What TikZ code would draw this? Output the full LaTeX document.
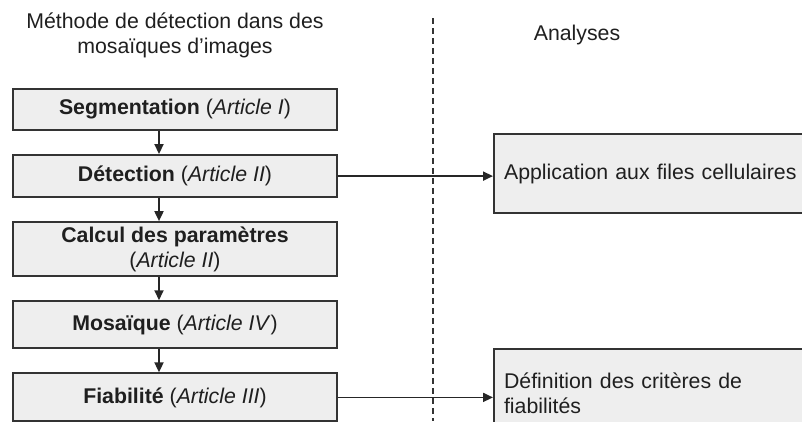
\documentclass[tikz,border=0pt]{standalone}
\usepackage{fontspec}
\setmainfont{Liberation Sans}
\usetikzlibrary{positioning,arrows.meta}
\begin{document}
\begin{tikzpicture}[x=1pt, y=-1pt, every node/.style={font=\fontsize{21.3}{25}\selectfont, text=black!88},
  node distance=23pt,
  box/.style={draw=black!80, line width=2.1pt, fill=gray!13, align=center, minimum width=324pt, inner sep=2pt},
  abox/.style={draw=black!80, line width=2.1pt, fill=gray!13, align=left, text width=330pt, inner sep=10pt, anchor=west},
  link/.style={line width=1.8pt, draw=black!85, -{Triangle[length=10pt, width=9pt]}}]
\useasboundingbox (0,0) rectangle (802,421);
\clip (0,0) rectangle (802,421);
% titres des colonnes
\node[align=center] (titre) at (175,35) {Méthode de détection dans des\\mosaïques d'images};
\node (analyses) at (577,35) {Analyses};
\coordinate (sep1) at (433,18);
\coordinate (sep2) at (433,421);
\draw[line width=1.8pt, dash pattern=on 6pt off 4pt, black!80] (sep1) -- (sep2);
% chaine de traitement
\node[box, minimum height=41pt] (seg) at (175,109.5) {\textbf{Segmentation} (\textit{Article I})};
\node[box, minimum height=42pt, below=of seg] (det) {\textbf{Détection} (\textit{Article II})};
\node[box, minimum height=54pt, below=of det] (calc) {\textbf{Calcul des paramètres}\\(\textit{Article II})};
\node[box, minimum height=47pt, below=of calc] (mos) {\textbf{Mosaïque} (\textit{Article IV})};
\node[box, minimum height=48pt, below=of mos] (fiab) {\textbf{Fiabilité} (\textit{Article III})};
\foreach \a/\b in {seg/det, det/calc, calc/mos, mos/fiab}
  \draw[link] ([xshift=-16pt]\a.south) -- ([xshift=-16pt]\b.north);
% analyses
\node[abox, minimum height=79pt] (app) at (493,173.5) {Application aux files cellulaires};
\node[abox, minimum height=88pt] (def) at (493,393) {Définition des critères de\\fiabilités};
\draw[link] (det.east) -- (det.east -| app.west);
\draw[link] (fiab.east) -- (fiab.east -| def.west);
\end{tikzpicture}
\end{document}
